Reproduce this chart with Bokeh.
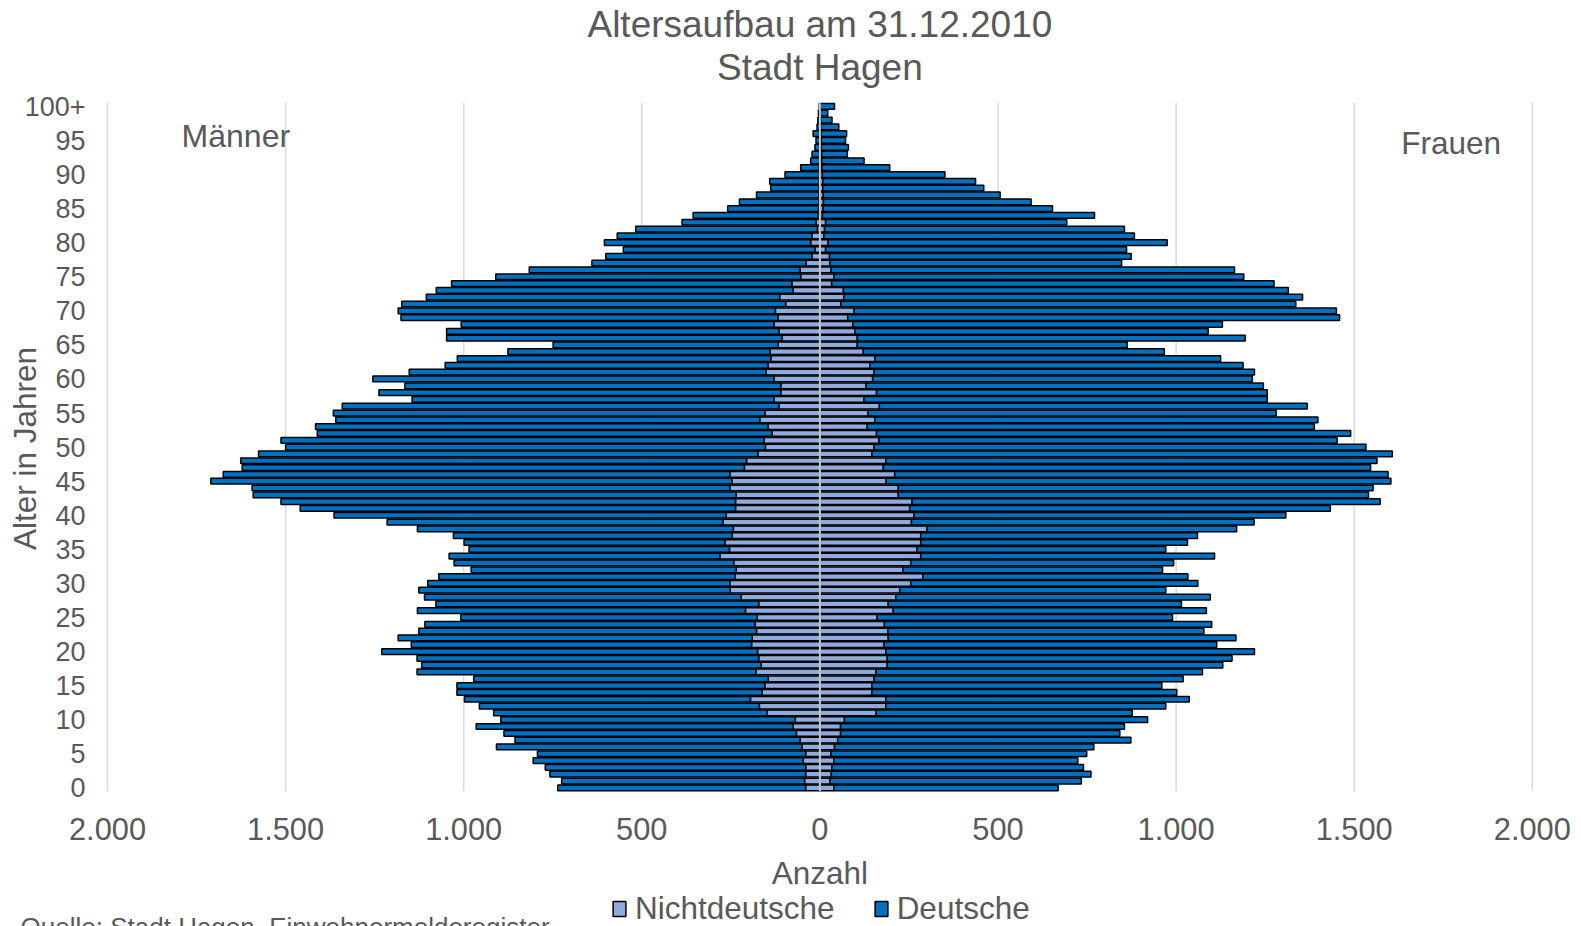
from bokeh.plotting import figure
from bokeh.models import Range1d, FixedTicker, Label, Legend, LegendItem, ColumnDataSource
from bokeh.embed import file_html
from bokeh.resources import INLINE

# ---- data ----
ages = list(range(0, 101))
age_ticks = list(range(0, 101, 5))
age_tick_labels = {a: ("100+" if a == 100 else str(a)) for a in age_ticks}
count_ticks = [-2000, -1500, -1000, -500, 0, 500, 1000, 1500, 2000]
count_tick_labels = {-2000: "2.000", -1500: "1.500", -1000: "1.000", -500: "500", 0: "0",
                     500: "500", 1000: "1.000", 1500: "1.500", 2000: "2.000"}

# Männer: total (Deutsche + Nichtdeutsche) and Nichtdeutsche, ages 0..100+
male_total = [736, 725, 758, 771, 805, 793, 908, 856, 887, 965, 896,
              916, 956, 998, 1019, 1019, 972, 1131, 1118, 1131, 1230,
              1147, 1184, 1126, 1109, 1008, 1130, 1078, 1110, 1126, 1101,
              1070, 979, 1027, 1041, 985, 999, 1029, 1130, 1215, 1364,
              1459, 1513, 1591, 1594, 1710, 1675, 1622, 1626, 1576, 1500,
              1513, 1411, 1416, 1359, 1366, 1341, 1145, 1238, 1165, 1255,
              1153, 1052, 1018, 876, 749, 1048, 1048, 1007, 1176, 1184,
              1174, 1105, 1077, 1034, 910, 816, 640, 601, 552, 605,
              569, 517, 387, 356, 259, 226, 178, 138, 141, 98,
              54, 26, 22, 14, 11, 19, 8, 6, 4, 2]
male_nd = [40, 43, 40, 40, 47, 40, 50, 56, 66, 75, 69,
           148, 170, 195, 162, 155, 145, 179, 165, 172, 175,
           192, 190, 178, 182, 176, 209, 172, 221, 252, 253,
           238, 235, 242, 281, 254, 267, 246, 243, 272, 263,
           237, 237, 235, 253, 247, 253, 212, 206, 174, 153,
           157, 134, 146, 169, 154, 115, 129, 110, 110, 129,
           151, 146, 138, 140, 117, 106, 115, 129, 118, 125,
           96, 113, 75, 79, 54, 56, 39, 22, 14, 26,
           22, 7, 11, 5, 4, 3, 3, 3, 2, 2,
           2, 1, 1, 1, 1, 1, 0, 0, 0, 0]
# Frauen
female_total = [669, 734, 761, 740, 724, 749, 769, 873, 842, 855, 920,
                877, 971, 1037, 1002, 960, 1020, 1074, 1131, 1157, 1220,
                1114, 1168, 1078, 1100, 990, 1085, 1015, 1096, 971, 1061,
                1033, 962, 993, 1108, 971, 1032, 1060, 1170, 1219, 1308,
                1433, 1573, 1540, 1553, 1603, 1595, 1546, 1564, 1607, 1533,
                1452, 1490, 1388, 1398, 1281, 1368, 1256, 1256, 1245, 1214,
                1220, 1188, 1125, 967, 863, 1194, 1090, 1130, 1459, 1450,
                1336, 1355, 1315, 1275, 1190, 1164, 847, 874, 861, 975,
                883, 855, 693, 771, 653, 593, 506, 460, 437, 351,
                196, 124, 77, 80, 72, 75, 53, 34, 22, 41]
female_nd = [39, 28, 32, 34, 39, 31, 41, 50, 58, 58, 69,
             158, 185, 185, 146, 146, 152, 158, 189, 189, 185,
             180, 192, 191, 181, 161, 206, 192, 213, 224, 255,
             289, 233, 255, 283, 272, 283, 283, 301, 257, 264,
             252, 259, 220, 220, 186, 210, 178, 185, 146, 152,
             166, 159, 133, 154, 135, 167, 124, 159, 130, 148,
             152, 140, 155, 122, 105, 105, 98, 93, 78, 96,
             59, 67, 66, 33, 39, 31, 28, 27, 16, 23,
             11, 13, 16, 7, 9, 10, 9, 8, 8, 7,
             6, 5, 5, 4, 4, 3, 2, 2, 1, 1]

series_names = ["Nichtdeutsche", "Deutsche"]
series_colors = ["#8FAADC", "#0070C0"]

FONT = "Liberation Sans"
TXT = "#595959"

# ---- sources ----
nd_src = ColumnDataSource(dict(
    y=ages + ages,
    left=[-v for v in male_nd] + [0] * len(ages),
    right=[0] * len(ages) + female_nd,
))
de_src = ColumnDataSource(dict(
    y=ages + ages,
    left=[-t for t in male_total] + female_nd,
    right=[-n for n in male_nd] + female_total,
))

W, H = 1581, 926
# the plotting frame covers the whole canvas; the ranges place the bar area
p = figure(width=W, height=H, output_backend="svg", toolbar_location=None,
           x_range=Range1d(-2300.4, 2138.1), y_range=Range1d(-20.35, 115.54),
           min_border=0, min_border_left=0, min_border_right=0,
           min_border_top=0, min_border_bottom=0)
p.outline_line_color = None
p.background_fill_color = "white"
p.border_fill_color = "white"
p.xgrid.visible = False
p.ygrid.visible = False

# vertical grid lines over the age range
p.segment(x0=count_ticks, x1=count_ticks, y0=[-0.5] * len(count_ticks),
          y1=[100.5] * len(count_ticks), line_color="#D9D9D9", line_width=1.5)

r_nd = p.hbar(y="y", left="left", right="right", height=0.84, source=nd_src,
              fill_color=series_colors[0], line_color="black", line_width=1.5)
r_de = p.hbar(y="y", left="left", right="right", height=0.84, source=de_src,
              fill_color=series_colors[1], line_color="black", line_width=1.5)

# centre line at 0
p.segment(x0=[0], x1=[0], y0=[-0.5], y1=[100.5], line_color="#C8C8C8", line_width=2)

# axes drawn at fixed data positions (bottom of age range / left grid line)
p.xaxis.fixed_location = -0.5
p.xaxis.ticker = FixedTicker(ticks=count_ticks)
p.xaxis.major_label_overrides = count_tick_labels
p.xaxis.axis_line_color = None
p.xaxis.major_tick_line_color = None
p.xaxis.minor_tick_line_color = None
p.xaxis.major_tick_out = 0
p.xaxis.major_tick_in = 0
p.xaxis.major_label_standoff = 27
p.xaxis.major_label_text_font = FONT
p.xaxis.major_label_text_font_size = "30.8px"
p.xaxis.major_label_text_color = TXT

p.yaxis.fixed_location = -2000
p.yaxis.ticker = FixedTicker(ticks=age_ticks)
p.yaxis.major_label_overrides = age_tick_labels
p.yaxis.axis_line_color = None
p.yaxis.major_tick_line_color = None
p.yaxis.minor_tick_line_color = None
p.yaxis.major_tick_out = 0
p.yaxis.major_tick_in = 0
p.yaxis.major_label_standoff = 22
p.yaxis.major_label_text_font = FONT
p.yaxis.major_label_text_font_size = "27px"
p.yaxis.major_label_text_color = TXT


def lab(text, x, y, size, align="left", angle=0.0):
    p.add_layout(Label(x=x, y=y, text=text, text_font=FONT, text_font_size=size,
                       text_color=TXT, text_align=align, text_baseline="alphabetic",
                       angle=angle))


lab("Altersaufbau am 31.12.2010", 0, 112.0, "37px", "center")
lab("Stadt Hagen", 0, 105.75, "37px", "center")
lab("Männer", -1792, 95.66, "32px")
lab("Frauen", 1632, 94.65, "31.5px")
lab("Anzahl", 0, -12.55, "31.5px", "center")
lab("Alter in Jahren", -2232, 49.8, "31.5px", "center", 1.5707963)
lab("Quelle: Stadt Hagen, Einwohnermelderegister", -2244, -20.45, "26px")

legend = Legend(items=[LegendItem(label=series_names[0], renderers=[r_nd]),
                       LegendItem(label=series_names[1], renderers=[r_de])],
                orientation="horizontal", location=(611, -1),
                label_text_font=FONT, label_text_font_size="31.5px", label_text_color=TXT,
                glyph_width=16, glyph_height=19, label_standoff=8, spacing=38,
                padding=0, margin=0, border_line_alpha=0, background_fill_alpha=0)
p.add_layout(legend)

open("out.html", "w").write(file_html(p, INLINE))
